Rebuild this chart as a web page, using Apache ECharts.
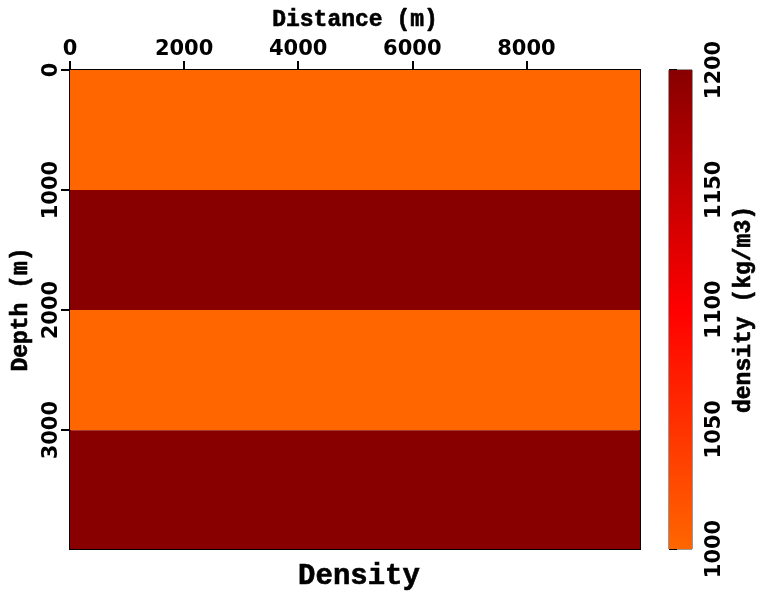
<!DOCTYPE html>
<html>
<head>
<meta charset="utf-8">
<script src="https://cdn.jsdelivr.net/npm/echarts@6/dist/echarts.min.js"></script>
<style>html,body{margin:0;padding:0;background:#fff}#c{width:757px;height:591px}</style>
</head>
<body>
<div id="c"></div>
<script>
// Data
var layerTop = [0, 1000, 2000, 3000];
var layerBottom = [1000, 2000, 3000, 3990];
var layerDensity = [1000, 1200, 1000, 1200];
var distanceRange = [0, 9990];
var depthRange = [0, 3990];
var xTicks = [0, 2000, 4000, 6000, 8000];
var yTicks = [0, 1000, 2000, 3000];
var cbarRange = [1000, 1200];
var cbarTicks = [1000, 1050, 1100, 1150, 1200];
var rampColors = ['#ff6600', '#ff0000', '#880000'];

var layerData = layerTop.map(function (t, i) {
  return [distanceRange[0], distanceRange[1], layerDensity[i], t, layerBottom[i]];
});

function plain(v) { return String(v); }
var labelFont = { fontFamily: 'DejaVu Sans', fontWeight: 'bold', fontSize: 21, color: '#000', formatter: plain };
var nameFont = { fontFamily: 'Liberation Mono', fontWeight: 'bold', fontSize: 23, color: '#000', textBorderColor: '#000', textBorderWidth: 0.6 };

var chart = echarts.init(document.getElementById('c'), null, { renderer: 'canvas' });
chart.setOption({
  animation: false,
  backgroundColor: '#fff',
  title: {
    text: 'Density', left: 354, top: 557, textAlign: 'center',
    textStyle: { fontFamily: 'Liberation Mono', fontWeight: 'bold', fontSize: 29, color: '#000', textBorderColor: '#000', textBorderWidth: 0.6 }
  },
  grid: [
    { left: 70, top: 70, width: 570, height: 479, show: true, borderColor: '#000', borderWidth: 2, backgroundColor: 'transparent', containLabel: false, outerBoundsMode: 'none' },
    { left: 669, top: 70, width: 23, height: 479, show: true, borderColor: '#333', borderWidth: 1, backgroundColor: 'transparent', containLabel: false, outerBoundsMode: 'none' }
  ],
  visualMap: {
    show: false, type: 'continuous', seriesIndex: 0, dimension: 2,
    min: cbarRange[0], max: cbarRange[1], inRange: { color: rampColors }
  },
  xAxis: [
    {
      gridIndex: 0, type: 'value', position: 'top', min: distanceRange[0], max: distanceRange[1],
      name: 'Distance (m)', nameLocation: 'middle', nameGap: 38, nameTextStyle: nameFont,
      axisLine: { show: true, lineStyle: { color: '#000', width: 2 } },
      axisTick: { show: true, length: 9, customValues: xTicks, lineStyle: { color: '#000', width: 2 } },
      axisLabel: Object.assign({ margin: 10, customValues: xTicks }, labelFont),
      splitLine: { show: false }
    },
    { gridIndex: 1, type: 'value', min: 0, max: 1, show: false }
  ],
  yAxis: [
    {
      gridIndex: 0, type: 'value', inverse: true, min: depthRange[0], max: depthRange[1],
      name: 'Depth (m)', nameLocation: 'middle', nameGap: 32, nameRotate: 90, nameTextStyle: nameFont,
      axisLine: { show: true, lineStyle: { color: '#000', width: 2 } },
      axisTick: { show: true, length: 9, customValues: yTicks, lineStyle: { color: '#000', width: 2 } },
      axisLabel: Object.assign({ margin: 8, rotate: 90, customValues: yTicks }, labelFont),
      splitLine: { show: false }
    },
    {
      gridIndex: 1, type: 'value', position: 'right', min: cbarRange[0], max: cbarRange[1],
      name: 'density (kg/m3)', nameLocation: 'middle', nameGap: 41, nameRotate: 90, nameTextStyle: nameFont,
      axisLine: { show: false },
      axisTick: { show: true, length: 8, customValues: cbarTicks, lineStyle: { color: '#000', width: 2 } },
      axisLabel: Object.assign({ margin: 12, rotate: 90, customValues: cbarTicks }, labelFont),
      splitLine: { show: false }
    }
  ],
  series: [
    {
      type: 'custom', xAxisIndex: 0, yAxisIndex: 0,
      data: layerData,
      encode: { x: [0, 1], y: [3, 4] },
      renderItem: function (params, api) {
        var p0 = api.coord([api.value(0), api.value(3)]);
        var p1 = api.coord([api.value(1), api.value(4)]);
        return {
          type: 'rect',
          shape: { x: p0[0], y: p0[1], width: p1[0] - p0[0], height: p1[1] - p0[1] },
          style: { fill: api.visual('color') }
        };
      },
      z: 1
    },
    {
      type: 'custom', xAxisIndex: 1, yAxisIndex: 1,
      data: [[0, 1, cbarRange[0], cbarRange[1]]],
      encode: { x: [0, 1], y: [2, 3] },
      renderItem: function (params, api) {
        var p0 = api.coord([api.value(0), api.value(3)]);
        var p1 = api.coord([api.value(1), api.value(2)]);
        var stops = rampColors.map(function (c, i) {
          return { offset: 1 - i / (rampColors.length - 1), color: c };
        }).reverse();
        return {
          type: 'rect',
          shape: { x: p0[0], y: p0[1], width: p1[0] - p0[0], height: p1[1] - p0[1] },
          style: { fill: new echarts.graphic.LinearGradient(0, 0, 0, 1, stops) }
        };
      },
      z: 1
    }
  ]
});
</script>
</body>
</html>
